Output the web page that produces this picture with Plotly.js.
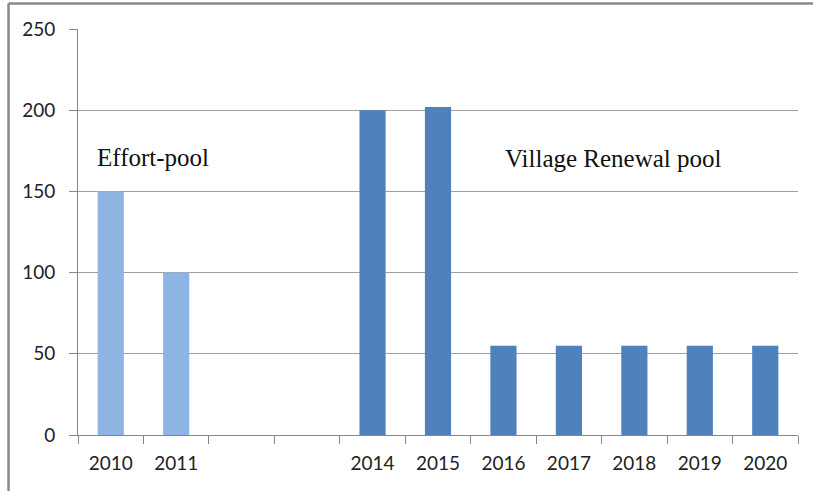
<!DOCTYPE html>
<html>
<head>
<meta charset="utf-8">
<script src="https://cdn.plot.ly/plotly-3.0.1.min.js"></script>
<style>
html,body{margin:0;padding:0;background:#fff;}
#chart{width:813px;height:491px;}
</style>
</head>
<body>
<div id="chart"></div>
<script>
// Category slots (2012 and 2013 are empty slots with blank labels)
const years = ["2010","2011","2012","2013","2014","2015","2016","2017","2018","2019","2020"];
const tickLabels = ["2010","2011","","","2014","2015","2016","2017","2018","2019","2020"];
// Effort-pool values
const effortYears = ["2010","2011"];
const effortValues = [150, 100];
// Village Renewal pool values
const villageYears = ["2014","2015","2016","2017","2018","2019","2020"];
const villageValues = [200, 202, 55, 55, 55, 55, 55];

const traces = [
  {type:"bar", x: effortYears, y: effortValues, name:"Effort-pool",
   marker:{color:"#8EB4E3"}, hoverinfo:"x+y"},
  {type:"bar", x: villageYears, y: villageValues, name:"Village Renewal pool",
   marker:{color:"#4F81BD"}, hoverinfo:"x+y"}
];

const fontTick = {family:"Lato, Liberation Sans, Arial, sans-serif", size:19, color:"#222"};
const fontAnn = {family:"Liberation Serif, Times New Roman, serif", size:25, color:"#111"};

const layout = {
  width:813, height:491,
  margin:{l:78, r:15, t:29, b:56},
  paper_bgcolor:"#fff", plot_bgcolor:"#fff",
  showlegend:false,
  barmode:"overlay",
  bargap:0.6,
  xaxis:{
    type:"category", categoryorder:"array", categoryarray: years,
    tickvals: years, ticktext: tickLabels,
    tickson:"boundaries", ticks:"outside", ticklen:8, tickcolor:"#868686", tickwidth:1,
    showline:true, linecolor:"#868686", linewidth:1,
    showgrid:false, zeroline:false,
    tickfont: fontTick, ticklabelstandoff:11, fixedrange:true
  },
  yaxis:{
    range:[0,250], tickvals:[0,50,100,150,200,250],
    ticks:"outside", ticklen:8, tickcolor:"#868686",
    showline:true, linecolor:"#868686", linewidth:1,
    showgrid:true, gridcolor:"#a0a0a0", gridwidth:1,
    zeroline:false, tickfont: fontTick, ticklabelstandoff:10, fixedrange:true
  },
  annotations:[
    {xref:"paper", yref:"y", x:0.024, y:171, xanchor:"left", yanchor:"middle",
     text:"Effort-pool", showarrow:false, font: fontAnn},
    {xref:"paper", yref:"y", x:0.59, y:170, xanchor:"left", yanchor:"middle",
     text:"Village Renewal pool", showarrow:false, font: fontAnn}
  ],
  shapes:[
    {type:"line", xref:"paper", yref:"paper", x0:-0.0965, x1:-0.0965, y0:-0.2, y1:1.0628,
     line:{color:"#888", width:2.5}},
    {type:"line", xref:"paper", yref:"paper", x0:-0.0965, x1:1.05, y0:1.0628, y1:1.0628,
     line:{color:"#888", width:2.5}}
  ]
};

Plotly.newPlot("chart", traces, layout, {displayModeBar:false, staticPlot:true});
</script>
</body>
</html>
